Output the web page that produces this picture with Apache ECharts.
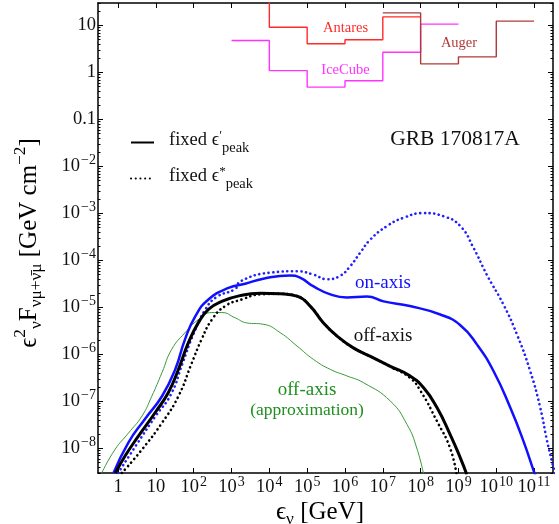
<!DOCTYPE html>
<html><head><meta charset="utf-8">
<script src="https://cdn.jsdelivr.net/npm/echarts@6/dist/echarts.min.js"></script>
<style>html,body{margin:0;padding:0;background:#fff}#c{width:559px;height:524px}</style>
</head><body><div id="c"></div>
<script>
const FONT = '"Liberation Serif", "DejaVu Serif", serif';

// ---- axis ticks ----
const xTicks = [1, 10, 1e2, 1e3, 1e4, 1e5, 1e6, 1e7, 1e8, 1e9, 1e10, 1e11];
const yTicks = [1e-8, 1e-7, 1e-6, 1e-5, 1e-4, 1e-3, 1e-2, 0.1, 1, 10];
const xRange = [0.295, 3.16e11];
const yRange = [3.0e-9, 30.2];

// ---- model curves [E (GeV), e^2 F (GeV cm^-2)] ----
const onAxisPrime = [[0.76,3.0e-9],[1.86,1.32e-8],[5.1,4.2e-8],[14.5,1.29e-7],[32.4,4.8e-7],[58.9,2.1e-6],[110,6.5e-6],[245,1.48e-5],[832,2.6e-5],[2.3e3,3.2e-5],[6.9e3,4.1e-5],[3.5e4,4.8e-5],[6.5e4,4.3e-5],[1.48e5,2.8e-5],[4.1e5,1.9e-5],[1.12e6,1.64e-5],[3.8e6,1.72e-5],[1.05e7,1.35e-5],[5.2e7,1.07e-5],[3.3e8,7.1e-6],[1.12e9,4.2e-6],[3.1e9,1.62e-6],[8.5e9,4.4e-7],[2.34e10,7.4e-8],[5.2e10,1.45e-8],[9.8e10,3.3e-9],[1.1e11,2.6e-9]];
const onAxisStar = [[1.0,3.0e-9],[3.2,1.26e-8],[10,5.0e-8],[25,1.41e-7],[50,6.3e-7],[100,2.8e-6],[200,8.9e-6],[400,1.66e-5],[1.26e3,2.5e-5],[1.7e3,3.6e-5],[1.05e4,5.5e-5],[5.4e4,5.9e-5],[1.48e5,5.0e-5],[3.3e5,4.0e-5],[7.4e5,4.7e-5],[1.38e6,7.6e-5],[2.5e6,1.45e-4],[4.7e6,2.8e-4],[1.29e7,5.4e-4],[3.5e7,8.1e-4],[1.2e8,1.02e-3],[4.1e8,8.7e-4],[1.12e9,5.4e-4],[2.5e9,1.86e-4],[5.6e9,5.0e-5],[1.55e10,1.15e-5],[3.5e10,2.7e-6],[7.9e10,4.4e-7],[1.45e11,7.4e-8],[2.2e11,1.45e-8],[2.95e11,5.4e-9],[4.0e11,2.0e-9]];
const offAxisPrime = [[0.85,3.0e-9],[1.53,6.9e-9],[3.44,1.82e-8],[9.5,5.75e-8],[21.4,1.55e-7],[39.4,4.8e-7],[72.4,1.78e-6],[132,4.7e-6],[245,9.1e-6],[550,1.35e-5],[1.86e3,1.82e-5],[5.75e3,2.0e-5],[1.95e4,1.95e-5],[5.4e4,1.74e-5],[1.2e5,1.07e-5],[2.7e5,4.7e-6],[6.2e5,2.45e-6],[1.66e6,1.38e-6],[4.7e6,9.1e-7],[1.58e7,5.6e-7],[5.2e7,3.5e-7],[1.2e8,1.95e-7],[2.7e8,7.4e-8],[6.0e8,2.0e-8],[1.12e9,6.3e-9],[1.66e9,2.8e-9]];
const offAxisStar = [[1.26,3.0e-9],[4.3,9.5e-9],[14.5,3.5e-8],[39.4,1.29e-7],[89,6.6e-7],[162,2.1e-6],[302,5.5e-6],[676,1.07e-5],[1.86e3,1.48e-5],[5.75e3,1.9e-5],[1.95e4,1.95e-5],[5.4e4,1.74e-5],[1.2e5,1.07e-5],[2.7e5,4.7e-6],[6.2e5,2.45e-6],[1.66e6,1.38e-6],[4.7e6,9.1e-7],[1.58e7,5.5e-7],[5.2e7,3.2e-7],[1.0e8,1.66e-7],[2.7e8,3.8e-8],[6.0e8,1.02e-8],[8.9e8,2.8e-9]];
const offAxisApprox = [[0.37,3.0e-9],[0.83,9.5e-9],[1.86,2.1e-8],[4.3,4.9e-8],[7.8,1.29e-7],[14.5,4.1e-7],[26.3,1.29e-6],[58.9,2.9e-6],[132,5.5e-6],[302,7.8e-6],[550,7.8e-6],[1.26e3,6.0e-6],[2.5e3,4.7e-6],[6.9e3,4.4e-6],[1.95e4,2.9e-6],[5.4e4,1.51e-6],[1.48e5,7.8e-7],[4.1e5,4.8e-7],[1.12e6,3.5e-7],[3.1e6,2.5e-7],[1.58e7,1.02e-7],[4.4e7,3.2e-8],[7.9e7,1.02e-8],[1.2e8,2.8e-9]];

// ---- upper limits: bin edges (GeV) and values (GeV cm^-2) ----
const antaresEdges = [1e3, 1e4, 1e5, 1e6, 1e7, 1e8];
const antaresValues = [50, 9.2, 4.1, 5.0, 15.3];
const icecubeEdges = [1e3, 1e4, 1e5, 1e6, 1e7, 1e8, 1e9];
const icecubeValues = [4.8, 1.1, 0.49, 0.67, 2.7, 10.7];
const augerEdges = [1e7, 1e8, 1e9, 1e10, 1e11];
const augerValues = [18.6, 1.53, 2.16, 12.4];

function steps(edges, vals) {
  const out = [];
  for (let i = 0; i < vals.length; i++) { out.push([edges[i], vals[i]], [edges[i + 1], vals[i]]); }
  return out;
}
const yMinor = [];
for (let k = -9; k <= 1; k++) for (let m = 2; m <= 9; m++) { const v = m * Math.pow(10, k); if (v > yRange[0] && v < yRange[1]) yMinor.push(v); }

function fmtTick(v) {
  const e = Math.round(Math.log10(v));
  if (e === 0) return '{b|1}';
  if (e === 1) return '{b|10}';
  if (e === -1) return '{b|0.1}';
  return '{b|10}{s|' + (e < 0 ? '\u2212' + (-e) : e) + '}';
}
const tickRich = {
  b: { fontFamily: FONT, fontSize: 18.5, color: '#111', padding: [3, 0, 0, 0] },
  s: { fontFamily: FONT, fontSize: 14, color: '#111', verticalAlign: 'top', padding: [0, 0, 8, 1] }
};
const lineAxis = { show: true, lineStyle: { color: '#000', width: 1.5 } };

function xAx(pos, labels) {
  return {
    type: 'log', position: pos, min: xRange[0], max: xRange[1],
    axisLine: lineAxis, splitLine: { show: false },
    axisTick: { inside: true, length: 5, customValues: xTicks, lineStyle: { color: '#000', width: 1 } },
    axisLabel: labels ? { customValues: xTicks, formatter: fmtTick, rich: tickRich, margin: 2 } : { show: false }
  };
}
function yAx(pos, labels, minor) {
  return {
    type: 'log', position: pos, min: yRange[0], max: yRange[1],
    axisLine: minor ? { show: false } : lineAxis, splitLine: { show: false },
    axisTick: { inside: true, length: minor ? 2.5 : 5, customValues: minor ? yMinor : yTicks, lineStyle: { color: '#000', width: 1 } },
    axisLabel: labels ? { customValues: yTicks, formatter: fmtTick, rich: tickRich, margin: 2, padding: [0, 0, 4, 0] } : { show: false }
  };
}

const NAME_P = 'fixed \u03f5\u2032 peak';
const NAME_S = 'fixed \u03f5* peak';

function curve(name, data, color, width, dotted, z) {
  return {
    type: 'line', name: name, data: data, symbol: 'none', smooth: 0.5, z: z || 2,
    lineStyle: dotted ? { color: color, width: width, type: [0.1, 4.6], cap: 'round' } : { color: color, width: width, join: 'round' },
    itemStyle: { color: color }, silent: true, animation: false
  };
}
function stepSeries(data, color) {
  return { type: 'line', data: data, symbol: 'none', lineStyle: { color: color, width: 1.4 }, itemStyle: { color: color }, silent: true, animation: false };
}

function titleRich(s) {
  const t = s * 0.69, pad = Math.round(s * 0.27);
  return {
    a: { fontFamily: FONT, fontSize: s, color: '#111', padding: [pad, 0, pad, 0] },
    p: { fontFamily: FONT, fontSize: t, color: '#111', verticalAlign: 'top', padding: [Math.round(s * 0.08), 0, s + 2 * pad - t - Math.round(s * 0.08), 0] },
    q: { fontFamily: FONT, fontSize: t, color: '#111', verticalAlign: 'top', padding: [s + 2 * pad - t - Math.round(s * 0.12), 0, Math.round(s * 0.12), 0] }
  };
}
function label(text, x, y, size, color) {
  return { type: 'text', x: x, y: y, silent: true, style: { text: text, fontFamily: FONT, fontSize: size, fill: color, align: 'center', verticalAlign: 'middle' } };
}

const chart = echarts.init(document.getElementById('c'), null, { renderer: 'canvas' });
chart.setOption({
  animation: false,
  backgroundColor: '#fff',
  grid: { left: 98, top: 3, width: 455, height: 470, containLabel: false },
  xAxis: [xAx('bottom', true), xAx('top', false)],
  yAxis: [yAx('left', true, false), yAx('left', false, true), yAx('right', false, false), yAx('right', false, true)],
  legend: {
    left: 130, top: 129, padding: 0, orient: 'vertical', itemWidth: 23, itemHeight: 14, itemGap: 9, selectedMode: false,
    itemStyle: { color: 'rgba(0,0,0,0)', borderWidth: 0, opacity: 0 },
    data: [NAME_P, NAME_S],
    formatter: n => n === NAME_P ? '{a|fixed \u03f5}{p|\u2032}{q|peak}' : '{a|fixed \u03f5}{p|*}{q|peak}',
    textStyle: {
      fontFamily: FONT, color: '#111',
      rich: {
        a: { fontFamily: FONT, fontSize: 18.5, color: '#111', padding: [2, 0, 6, 10] },
        p: { fontFamily: FONT, fontSize: 13, color: '#111', verticalAlign: 'top', padding: [0, 0, 13, 0] },
        q: { fontFamily: FONT, fontSize: 14.5, color: '#111', verticalAlign: 'top', padding: [12, 0, 0, 0] }
      }
    }
  },
  series: [
    stepSeries(steps(icecubeEdges, icecubeValues), '#ff33ff'),
    stepSeries(steps(antaresEdges, antaresValues), '#ff2a2a'),
    stepSeries(steps(augerEdges, augerValues), '#b03a3a'),
    curve('approx', offAxisApprox, '#3a9a3a', 1, false),
    curve('on-axis star', onAxisStar, '#2020ff', 2.6, true),
    curve('on-axis prime', onAxisPrime, '#1010ff', 2.5, false),
    curve(NAME_P, offAxisPrime, '#000', 3, false),
    curve(NAME_S, offAxisStar, '#000', 2.6, true, 3)
  ],
  graphic: [
    label('Antares', 345.5, 28, 14.5, '#ff2a2a'),
    label('IceCube', 345.5, 70, 14.5, '#ff33ff'),
    label('Auger', 459, 43, 14.5, '#b03a3a'),
    label('GRB 170817A', 455, 139, 21.5, '#111'),
    label('on-axis', 383, 283, 19, '#1010ff'),
    label('off-axis', 383, 336, 19, '#111'),
    label('off-axis', 307, 390, 19, '#1f8f1f'),
    label('(approximation)', 307, 410, 17.5, '#1f8f1f'),
    { type: 'text', x: 320, y: 512, silent: true, style: { text: '{a|\u03f5}{q|\u03bd}{a| [GeV]}', rich: titleRich(25), align: 'center', verticalAlign: 'middle' } },
    { type: 'text', x: 29, y: 243, rotation: Math.PI / 2, silent: true, style: { text: '{a|\u03f5}{p|2}{q|\u03bd}{a|F}{q|\u03bd\u03bc+\u03bd\u0304\u03bc}{a| [GeV cm}{p|\u22122}{a|]}', rich: titleRich(25), align: 'center', verticalAlign: 'middle' } }
  ]
});
</script></body></html>
